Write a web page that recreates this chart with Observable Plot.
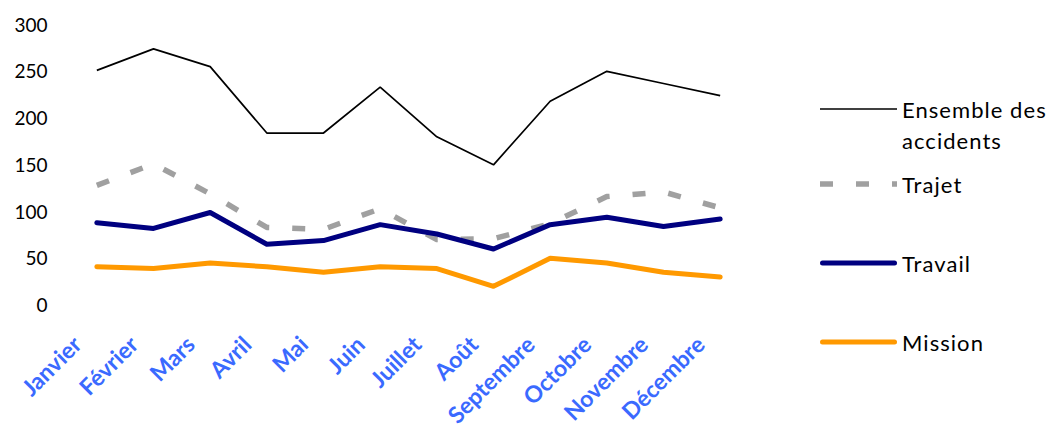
<!DOCTYPE html>
<html>
<head>
<meta charset="utf-8">
<script src="https://cdn.jsdelivr.net/npm/d3@7"></script>
<script src="https://cdn.jsdelivr.net/npm/@observablehq/plot@0.6"></script>
<style>
  body { margin: 0; background: #fff; }
  #chart { position: relative; width: 1050px; height: 428px; font-family: Lato, sans-serif; }
  #chart > svg { position: absolute; left: 0; top: 0; }
  #legend { position: absolute; left: 820px; top: 94px; }
  .item { display: flex; align-items: flex-start; height: 30px; margin-bottom: 49px; }
  .item:first-child { height: 60px; margin-bottom: 15px; }
  .item svg { flex: none; width: 82px; height: 30px; }
  .item span { font-size: 22px; line-height: 31px; color: #000; white-space: pre-line; letter-spacing: 1.05px; }
</style>
</head>
<body>
<div id="chart"><div id="legend"></div></div>
<script>
// Accidents par mois
const months = ["Janvier", "Février", "Mars", "Avril", "Mai", "Juin", "Juillet", "Août", "Septembre", "Octobre", "Novembre", "Décembre"];
const ensemble = [252, 275, 256, 185, 185, 234, 181, 151, 219, 251, 238, 225];
const trajet   = [129, 152, 120, 84, 82, 104, 71, 72, 88, 117, 122, 105];
const travail  = [89, 83, 100, 66, 70, 87, 77, 61, 87, 95, 85, 93];
const mission  = [42, 40, 46, 42, 36, 42, 40, 21, 51, 46, 36, 31];
const yTicks = [0, 50, 100, 150, 200, 250, 300];

const seriesNames = ["Ensemble des\naccidents", "Trajet", "Travail", "Mission"];
const seriesValues = [ensemble, trajet, travail, mission];

// Line styles per series
const seriesStyles = [
  { stroke: "#000000", strokeWidth: 1.7, strokeDasharray: null, strokeLinecap: "butt", strokeLinejoin: "miter" },
  { stroke: "#A0A0A0", strokeWidth: 5.5, strokeDasharray: "13,23", strokeLinecap: "butt", strokeLinejoin: "round" },
  { stroke: "#000080", strokeWidth: 5, strokeDasharray: null, strokeLinecap: "round", strokeLinejoin: "round" },
  { stroke: "#FF9900", strokeWidth: 5, strokeDasharray: null, strokeLinecap: "round", strokeLinejoin: "round" }
];

const series = seriesNames.map((name, i) => ({
  name,
  style: seriesStyles[i],
  rows: months.map((month, j) => ({ month, value: seriesValues[i][j] }))
}));

const chart = Plot.plot({
  width: 1050,
  height: 428,
  marginTop: 25,
  marginBottom: 122.5,
  marginLeft: 68,
  marginRight: 302,
  style: { fontFamily: "Lato, sans-serif", background: "transparent", color: "#000" },
  x: { type: "point", domain: months, padding: 0.5, round: false },
  y: { domain: [0, 300] },
  marks: [
    Plot.axisY(yTicks, { tickSize: 0, tickPadding: 21, fontSize: 19, fill: "#000", label: null }),
    Plot.axisX({
      tickSize: 0, tickRotate: -45, tickPadding: 35, dx: -19,
      textAnchor: "end", fontSize: 23, fontWeight: "bold", fill: "#3A6AFF", label: null
    }),
    ...series.map(s => Plot.line(s.rows, { x: "month", y: "value", ...s.style }))
  ]
});
document.getElementById("chart").prepend(chart);

// Legend on the right
const legend = d3.select("#legend");
series.forEach(s => {
  const item = legend.append("div").attr("class", "item");
  const sw = item.append("svg");
  const inset = s.style.strokeLinecap === "round" ? s.style.strokeWidth / 2 : 0;
  sw.append("line")
    .attr("x1", inset).attr("x2", 77 - inset)
    .attr("y1", 15).attr("y2", 15)
    .attr("stroke", s.style.stroke)
    .attr("stroke-width", s.style.strokeWidth)
    .attr("stroke-dasharray", s.style.strokeDasharray)
    .attr("stroke-linecap", s.style.strokeLinecap);
  item.append("span").text(s.name);
});
</script>
</body>
</html>
